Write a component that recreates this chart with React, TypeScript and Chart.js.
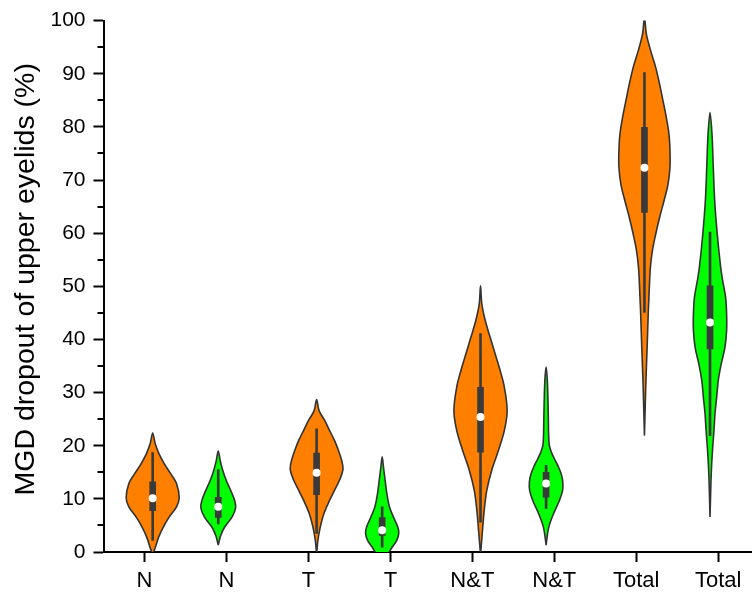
import React, { useEffect, useRef } from 'react';
import { Chart, registerables } from 'chart.js';

Chart.register(...registerables);

// ---------- data ----------
const categories = ['N', 'N', 'T', 'T', 'N&T', 'N&T', 'Total', 'Total'];
const yTicks = [0, 10, 20, 30, 40, 50, 60, 70, 80, 90, 100];
const yMinorTicks = [5, 15, 25, 35, 45, 55, 65, 75, 85, 95];
const yTitle = 'MGD dropout of upper eyelids (%)';

const medians = [10.1, 8.5, 14.9, 4.1, 25.4, 12.9, 72.3, 43.2];
const q1 = [7.8, 6.5, 10.8, 3.1, 18.8, 10.3, 63.9, 38.2];
const q3 = [13.2, 10.3, 18.6, 6.5, 31.0, 15.0, 79.9, 50.1];
const whiskerLow = [2.2, 5.3, 3.5, 0.9, 5.6, 8.2, 45.1, 21.9];
const whiskerHigh = [18.7, 15.5, 23.2, 8.5, 41.1, 16.3, 90.2, 60.2];

// density profiles: [value, density half-width]
const violinN1: [number, number][] = [
  [-0.5, 0], [0.9, 2.7], [2.8, 6], [4.7, 10.7], [6.6, 16.7], [8.5, 24], [10.2, 26.7],
  [12.9, 24], [14.7, 18.3], [16.6, 11.7], [18.5, 6.3], [20.4, 2.5], [22.4, 0],
];
const violinN2: [number, number][] = [
  [1.3, 0], [3.1, 2.5], [4.7, 6.5], [6.6, 14], [8.3, 17.5], [9.7, 16.5], [11.6, 12.5],
  [13.5, 8], [15.4, 4.5], [17.2, 2], [19.0, 0],
];
const violinT1: [number, number][] = [
  [-0.5, 0], [2.2, 1.3], [4.7, 3.7], [7.2, 7.3], [9.7, 13], [11.6, 18], [13.5, 23],
  [15.5, 26.5], [17.2, 25.3], [19.1, 22], [21.0, 18], [22.9, 13], [24.8, 8], [26.6, 2.5], [28.7, 0],
];
const violinT2: [number, number][] = [
  [-1, 3], [0, 7], [0.9, 10], [2.2, 14.7], [3.5, 16.7], [4.7, 15.7], [6.6, 11.3],
  [8.5, 7.3], [11, 4.7], [13.5, 3], [16, 1.3], [17.9, 0],
];
const violinNT1: [number, number][] = [
  [-0.5, 0], [4.1, 2], [7.8, 3.7], [11.6, 6.3], [15.4, 11.3], [19.1, 18], [22.9, 24],
  [26.6, 26.8], [31.0, 24], [34.2, 19.7], [37.3, 14.7], [40.4, 9.7], [43.6, 4.7], [46.7, 1.3], [50.1, 0],
];
const violinNT2: [number, number][] = [
  [1.3, 0], [4.5, 2.5], [7.2, 7.5], [9.5, 13], [11.5, 16.5], [13.2, 16.8], [14.8, 15],
  [16.2, 12], [17.5, 8.5], [18.7, 5.5], [20, 3.3], [22, 2.6], [26, 2.2], [30, 1.7], [33, 1], [34.8, 0],
];
const violinTotal1: [number, number][] = [
  [21.9, 0], [29.1, 1], [32.3, 1.5], [38.5, 2.7], [44.8, 3.8], [47.9, 4.5], [51, 5.2],
  [53.6, 6], [56.7, 8], [59.8, 11.3], [63.0, 15.3], [66.1, 19.7], [69.2, 23.7], [72.4, 25.7],
  [75.5, 25.7], [78.6, 24.7], [81.8, 22], [84.9, 18.7], [88.0, 15.3], [91.2, 11.3], [94.3, 6.3],
  [97.4, 2], [100.5, 0],
];
const violinTotal2: [number, number][] = [
  [6.6, 0], [13.5, 1], [16.6, 1.7], [19.7, 2.7], [22.9, 4], [26, 5], [29.1, 6.7], [32.3, 8.3],
  [35.4, 11.3], [38.5, 15], [41.7, 16.7], [44.8, 16.7], [47.9, 15.7], [51, 12.8], [53.6, 10.7],
  [59.8, 7.3], [66.1, 4.7], [72.4, 3.3], [78.6, 2], [82.7, 0],
];
const violinProfiles = [violinN1, violinN2, violinT1, violinT2, violinNT1, violinNT2, violinTotal1, violinTotal2];

// ---------- styling ----------
const FONT = "'Liberation Sans', Arial, Helvetica, sans-serif";
const ORANGE = '#FF8000';
const GREEN = '#00FF00';
const fillColors = categories.map((_, i) => (i % 2 === 0 ? ORANGE : GREEN));
const OUTLINE = '#333333';
const BOX = '#3a3a3a';
const densityToX = 1 / 82.5;
const pairShift = 0.1;

const centerOf = (i: number) => i + 1 + (i % 2 === 0 ? pairShift : -pairShift);

function violinPoints(profile: [number, number][], c: number) {
  const left = profile.map(([v, w]) => ({ x: c - w * densityToX, y: v }));
  const right = profile
    .slice()
    .reverse()
    .map(([v, w]) => ({ x: c + w * densityToX, y: v }));
  const last = profile[profile.length - 1];
  return last[1] === 0 ? [...left, ...right.slice(1)] : [...left, ...right];
}

const axisDecorPlugin = {
  id: 'axisDecor',
  afterDraw(chart: any) {
    const y = chart.scales.y;
    const ctx = chart.ctx;
    ctx.save();
    // minor ticks
    ctx.strokeStyle = '#000';
    ctx.lineWidth = 2;
    for (const v of yMinorTicks) {
      const py = Math.round(y.getPixelForValue(v));
      ctx.beginPath();
      ctx.moveTo(y.right - 6, py);
      ctx.lineTo(y.right, py);
      ctx.stroke();
    }
    // axis title
    ctx.fillStyle = '#000';
    ctx.font = `28.5px ${FONT}`;
    ctx.textAlign = 'center';
    ctx.textBaseline = 'alphabetic';
    ctx.translate(33.5, (y.top + y.bottom) / 2 - 7);
    ctx.rotate(-Math.PI / 2);
    ctx.fillText(yTitle, 0, 0);
    ctx.restore();
  },
};

export default function App() {
  const ref = useRef<HTMLCanvasElement>(null);

  useEffect(() => {
    const violinSets = violinProfiles.map((p, i) => ({
      type: 'line' as const,
      data: violinPoints(p, centerOf(i)),
      backgroundColor: fillColors[i],
      borderColor: OUTLINE,
      borderWidth: 1.6,
      pointRadius: 0,
      fill: 'shape',
      tension: 0.35,
      order: 10,
    }));
    const whiskers = {
      type: 'bar' as const,
      data: categories.map((_, i) => ({ x: centerOf(i), y: [whiskerLow[i], whiskerHigh[i]] })),
      backgroundColor: BOX,
      barThickness: 2,
      grouped: false,
      borderWidth: 0,
      order: 3,
    };
    const boxes = {
      type: 'bar' as const,
      data: categories.map((_, i) => ({ x: centerOf(i), y: [q1[i], q3[i]] })),
      backgroundColor: BOX,
      barThickness: 6,
      grouped: false,
      borderWidth: 0,
      order: 2,
    };
    const medianDots = {
      type: 'scatter' as const,
      data: medians.map((m, i) => ({ x: centerOf(i), y: m })),
      backgroundColor: '#ffffff',
      borderWidth: 0,
      pointRadius: 4,
      order: 1,
    };

    const chart = new Chart(ref.current as HTMLCanvasElement, {
      type: 'scatter',
      data: { datasets: [...violinSets, whiskers, boxes, medianDots] as any },
      options: {
        animation: false,
        responsive: false,
        events: [],
        layout: { padding: { top: 20, right: 0, left: 0, bottom: 0 } },
        plugins: { legend: { display: false }, tooltip: { enabled: false } },
        scales: {
          x: {
            type: 'linear',
            min: 0.5,
            max: 8.4,
            offset: false,
            afterBuildTicks: (s: any) => {
              s.ticks = categories.map((_, i) => ({ value: i + 1 }));
            },
            afterFit: (s: any) => {
              s.height = 42;
            },
            ticks: {
              callback: (_v: any, idx: number) => categories[idx] ?? '',
              font: { family: FONT, size: 22 },
              color: '#000',
              padding: 6,
              autoSkip: false,
              maxRotation: 0,
            },
            grid: {
              offset: false,
              drawOnChartArea: false,
              drawTicks: true,
              tickLength: 10,
              tickWidth: 2,
              tickColor: '#000',
            },
            border: { display: true, color: '#000', width: 2 },
          },
          y: {
            type: 'linear',
            min: 0,
            max: 100,
            afterBuildTicks: (s: any) => {
              s.ticks = yTicks.map((v) => ({ value: v }));
            },
            afterFit: (s: any) => {
              s.width = 103.5;
            },
            ticks: {
              font: { family: FONT, size: 21 },
              color: '#000',
              padding: 8,
            },
            grid: {
              drawOnChartArea: false,
              drawTicks: true,
              tickLength: 10,
              tickWidth: 2,
              tickColor: '#000',
            },
            border: { display: true, color: '#000', width: 2 },
          },
        },
      } as any,
      plugins: [axisDecorPlugin],
    });
    return () => chart.destroy();
  }, []);

  return (
    <div style={{ position: 'fixed', left: 0, top: 0, width: 755, height: 594, background: '#fff', overflow: 'hidden' }}>
      <canvas ref={ref} width={755} height={594} style={{ display: 'block' }} />
    </div>
  );
}
